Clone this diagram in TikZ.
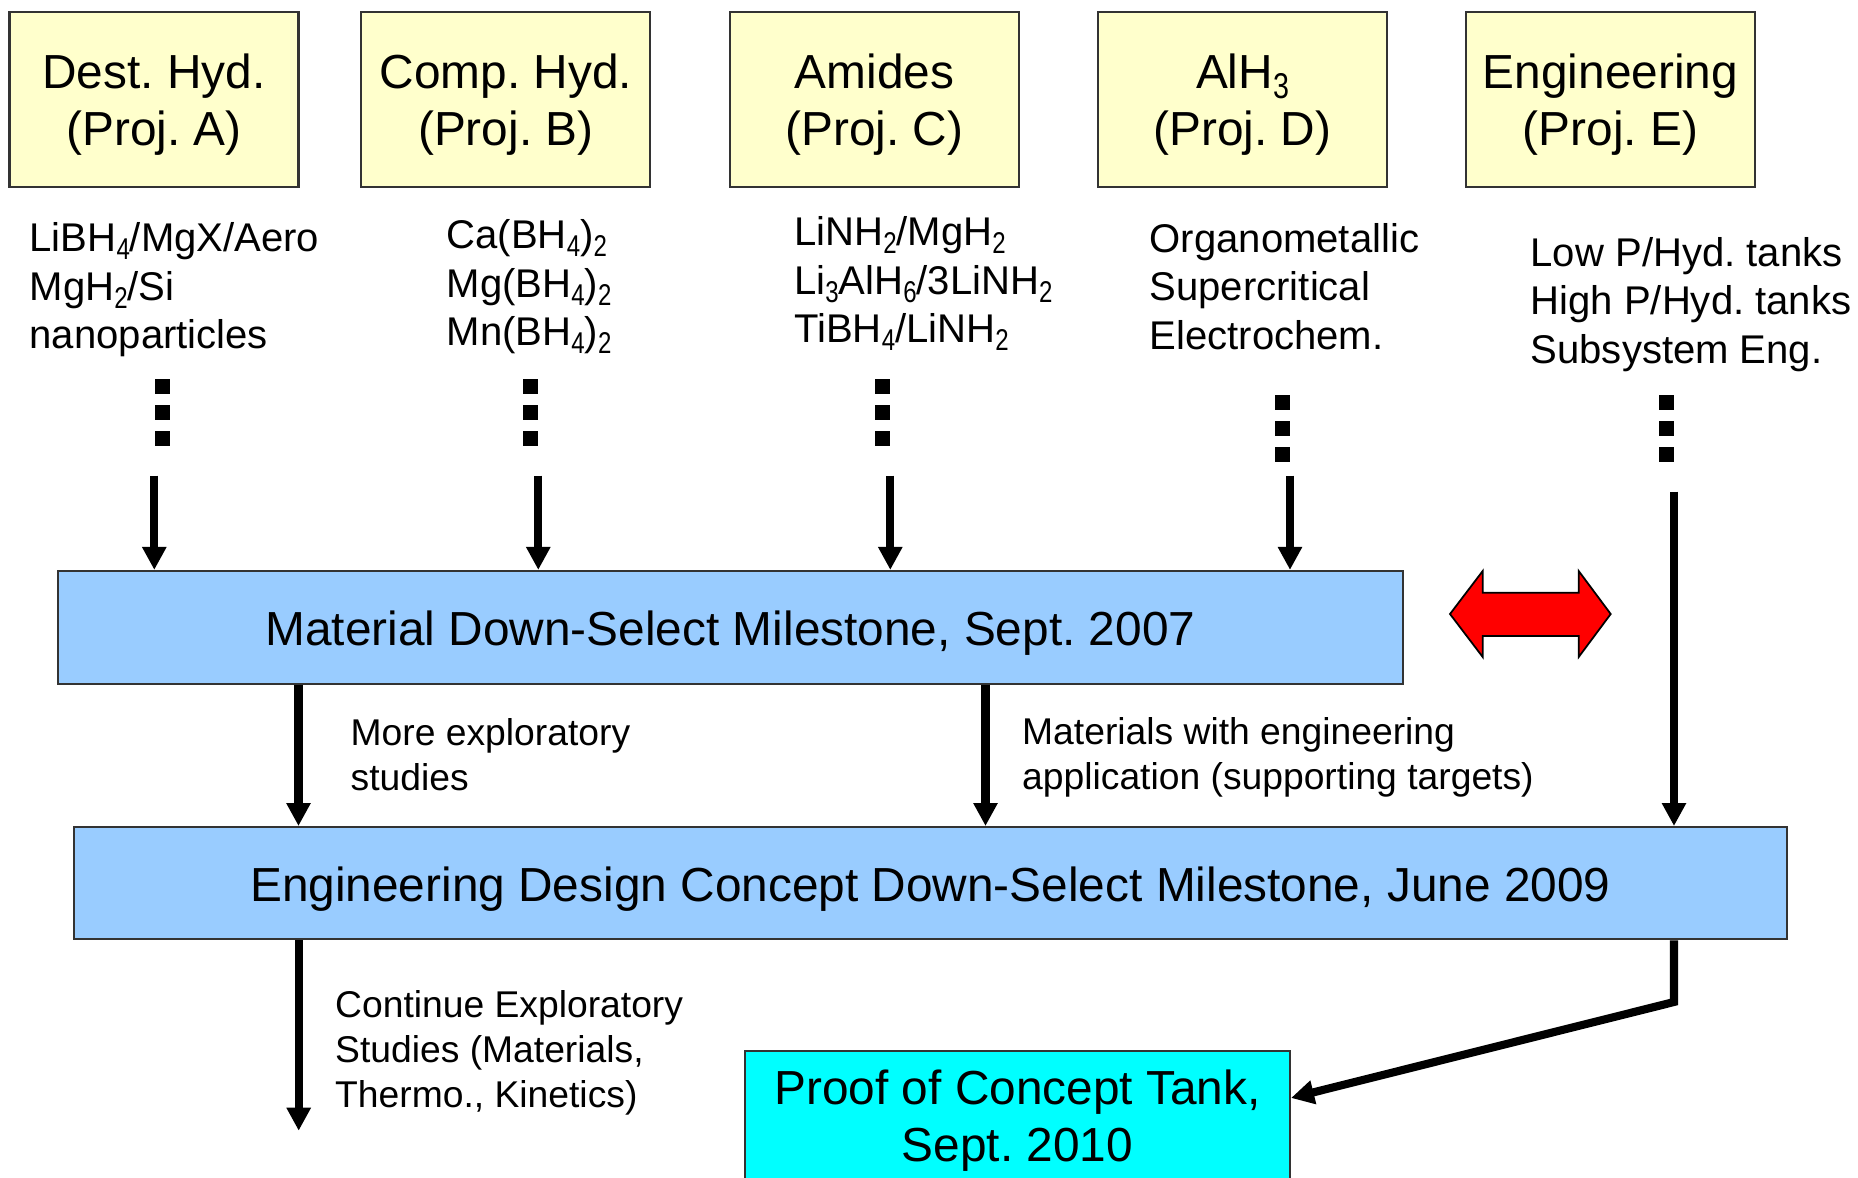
\documentclass[tikz,border=0pt]{standalone}
\usepackage{graphicx}
\usepackage{fontspec}
\setmainfont{Liberation Sans}
\usetikzlibrary{arrows.meta}

\newcommand{\chs}[1]{\raisebox{-0.2em}{\scalebox{0.6}[0.75]{#1}}}
\newcommand{\capstrut}[1]{\rule{0pt}{#1}}
\definecolor{projyellow}{HTML}{FFFFCC}
\definecolor{mileblue}{HTML}{99CCFF}
\definecolor{tankcyan}{HTML}{00FFFF}

\tikzset{
  projbox/.style={draw=black!80, fill=projyellow, line width=0.6pt, minimum width=2.89cm,
    minimum height=1.75cm, inner sep=0pt, align=center, font=\fontsize{13.6pt}{16.2pt}\selectfont},
  milebox/.style={draw=black!80, fill=mileblue, line width=0.6pt, inner sep=0pt,
    font=\fontsize{13.6pt}{16.2pt}\selectfont},
  listtext/.style={anchor=west, inner sep=0pt, align=left, font=\fontsize{11.4pt}{13.8pt}\selectfont},
  notetext/.style={anchor=west, inner sep=0pt, align=left, font=\fontsize{10.6pt}{12.8pt}\selectfont},
  flow/.style={line width=2.3pt, -{Triangle[length=0.23cm,width=0.23cm]}},
  dotline/.style={line width=0.15cm, dash pattern=on 0.15cm off 0.11cm},
}

\begin{document}
\frenchspacing
\begin{tikzpicture}
        \useasboundingbox (0,0) rectangle (18.58,-11.77);

        % Project boxes
        \node[projbox] (projA) at (1.54,-0.995) {\capstrut{12.75pt}Dest. Hyd.\\(Proj. A)};
        \node[projbox] (projB) at (5.058,-0.995) {\capstrut{12.75pt}Comp. Hyd.\\(Proj. B)};
        \node[projbox] (projC) at (8.745,-0.995) {\capstrut{12.75pt}Amides\\(Proj. C)};
        \node[projbox] (projD) at (12.425,-0.995) {\capstrut{12.75pt}AlH\chs{3}\\(Proj. D)};
        \node[projbox] (projE) at (16.105,-0.995) {\capstrut{12.75pt}Engineering\\(Proj. E)};

        % What each project works on
        \node[listtext] (listA) at (0.29,-2.90) {LiBH\chs{4}/MgX/Aero\\MgH\chs{2}/Si\\nanoparticles};
        \node[listtext] (listB) at (4.46,-2.87) {Ca(BH\chs{4})\chs{2}\\Mg(BH\chs{4})\chs{2}\\Mn(BH\chs{4})\chs{2}};
        \node[listtext] (listC) at (7.935,-2.835) {LiNH\chs{2}/MgH\chs{2}\\Li\chs{3}AlH\chs{6}/3LiNH\chs{2}\\TiBH\chs{4}/LiNH\chs{2}};
        \node[listtext] (listD) at (11.49,-2.865) {Organometallic\\Supercritical\\Electrochem.};
        \node[listtext] (listE) at (15.30,-3.045) {Low P/Hyd. tanks\\High P/Hyd. tanks\\Subsystem Eng.};

        % Milestones
        \node[milebox, minimum width=13.45cm, minimum height=1.127cm] (mat) at (7.305,-6.273)
            {\capstrut{13.1pt}Material Down-Select Milestone, Sept. 2007};
        \node[milebox, minimum width=17.127cm, minimum height=1.123cm] (eng) at (9.304,-8.832)
            {\capstrut{13.1pt}Engineering Design Concept Down-Select Milestone, June 2009};
        \node[milebox, fill=tankcyan, align=center, minimum width=5.45cm, minimum height=1.31cm] (tank)
            at (10.175,-11.165) {\capstrut{12.4pt}Proof of Concept Tank,\\Sept. 2010};

        % Notes beside the arrows
        \node[notetext] (noteMore) at (3.50,-7.55) {More exploratory\\studies};
        \node[notetext] (noteEng) at (10.215,-7.575) {Materials with engineering\\application (supporting targets)};
        \node[notetext] (noteCont) at (3.345,-10.53) {Continue Exploratory\\Studies (Materials,\\Thermo., Kinetics)};

        % Dotted stubs and arrows into the material milestone
        \foreach \p/\dx/\dy/\ax in {A/1.623/3.79/1.543, B/5.303/3.79/5.383, C/8.825/3.79/8.903, D/12.825/3.95/12.90} {
            \coordinate (dot\p) at (\dx,-\dy);
            \coordinate (feed\p) at (\ax,-4.757);
            \draw[dotline] (dot\p) -- ++(0,-0.67); % three squares
            \draw[flow] (feed\p) -- (feed\p |- mat.north);
        }

        % Engineering goes straight to the design milestone
        \coordinate (dotE) at (16.667,-3.95);
        \coordinate (feedE) at (16.74,-4.917);
        \draw[dotline] (dotE) -- ++(0,-0.67);
        \draw[flow] (feedE) -- (feedE |- eng.north);

        % Red two-way arrow
        \filldraw[fill=red, draw=black, line width=0.5pt] (14.50,-6.14) -- (14.827,-5.71) -- (14.827,-5.927)
            -- (15.787,-5.927) -- (15.787,-5.71) -- (16.107,-6.14) -- (15.787,-6.57) -- (15.787,-6.36)
            -- (14.827,-6.36) -- (14.827,-6.57) -- cycle;

        % Material milestone to design milestone
        \draw[flow] (2.985,0 |- mat.south) -- (2.985,0 |- eng.north);
        \draw[flow] (9.855,0 |- mat.south) -- (9.855,0 |- eng.north);

        % Out of the design milestone
        \coordinate (contEnd) at (2.987,-11.307);
        \draw[flow] (contEnd |- eng.south) -- (contEnd);
        \coordinate (bend) at (16.74,-10.02);
        \draw[flow] (bend |- eng.south) -- (bend) -- ([yshift=-0.48cm]tank.north east);

\end{tikzpicture}
\end{document}
